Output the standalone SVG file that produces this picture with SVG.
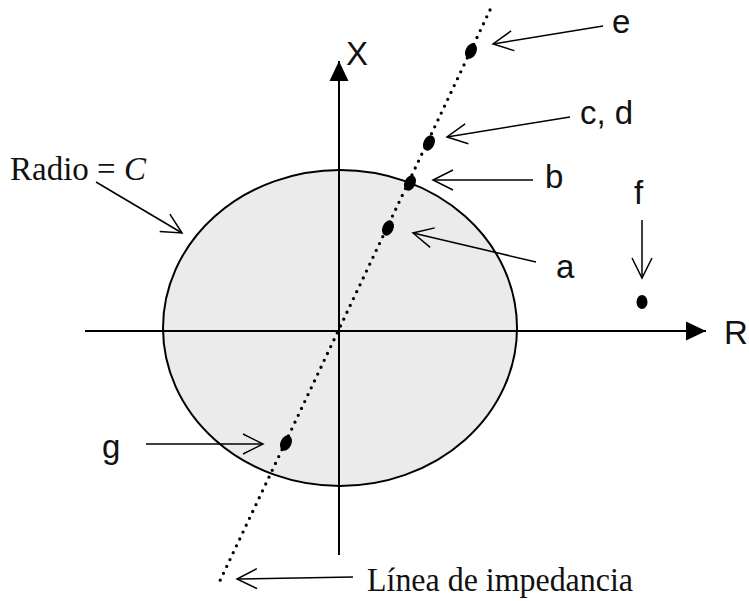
<svg xmlns="http://www.w3.org/2000/svg" width="749" height="601" viewBox="0 0 749 601">
<defs>
<marker id="open" markerUnits="userSpaceOnUse" viewBox="-22 -12 24 24" markerWidth="24" markerHeight="24" refX="0" refY="0" orient="auto" overflow="visible">
<path d="M-20,-10 L0,0 L-20,10" fill="none" stroke="#000" stroke-width="1.5"/>
</marker>
<marker id="solid" markerUnits="userSpaceOnUse" viewBox="-20 -10 22 20" markerWidth="22" markerHeight="20" refX="0" refY="0" orient="auto" overflow="visible">
<path d="M-20,-9.5 L0,0 L-20,9.5 Z" fill="#000"/>
</marker>
</defs>
<style>
.sans{font-family:"Liberation Sans",Arial,sans-serif;font-size:33px;fill:#111}
.serif{font-family:"Liberation Serif","Times New Roman",serif;font-size:33px;fill:#111}
.lbl{stroke:#000;stroke-width:1.5;fill:none;marker-end:url(#open)}
.axis{stroke:#000;stroke-width:2;fill:none}
.pt{fill:#000}
</style>
<g id="circle">
<ellipse cx="340" cy="328" rx="177" ry="158" fill="#ebebec" stroke="#000" stroke-width="2"/>
</g>
<g id="axes">
<line class="axis" x1="85" y1="331" x2="706" y2="331" marker-end="url(#solid)"/>
<line class="axis" x1="339" y1="555" x2="339" y2="61" marker-end="url(#solid)"/>
</g>
<g id="impedance-line">
<line x1="490" y1="10" x2="217" y2="587" stroke="#000" stroke-width="3.3" stroke-linecap="round" stroke-dasharray="0 7.6"/>
</g>
<g id="points">
<ellipse id="pe" class="pt" cx="471" cy="51" rx="5.5" ry="8" transform="rotate(25 471 51)"/>
<ellipse id="pcd" class="pt" cx="429" cy="143" rx="5.5" ry="8" transform="rotate(25 429 143)"/>
<ellipse id="pb" class="pt" cx="410" cy="183" rx="5.5" ry="8" transform="rotate(25 410 183)"/>
<ellipse id="pa" class="pt" cx="388" cy="228" rx="5.5" ry="8" transform="rotate(25 388 228)"/>
<ellipse id="pg" class="pt" cx="286" cy="443" rx="5.5" ry="8" transform="rotate(25 286 443)"/>
<ellipse id="pf" class="pt" cx="642" cy="302" rx="5.5" ry="7"/>
</g>
<g id="connectors">
<line class="lbl" x1="603" y1="26" x2="493" y2="44"/>
<line class="lbl" x1="570" y1="117" x2="447" y2="137"/>
<line class="lbl" x1="533" y1="180" x2="433" y2="180"/>
<line class="lbl" x1="536" y1="262" x2="413" y2="233"/>
<line class="lbl" x1="642" y1="220" x2="642" y2="278"/>
<line class="lbl" x1="146" y1="444" x2="263" y2="444"/>
<line class="lbl" x1="353" y1="577" x2="237" y2="579"/>
<line class="lbl" x1="96" y1="182" x2="182" y2="233"/>
</g>
<g id="labels">
<text class="sans" x="346" y="65">X</text>
<text class="sans" x="724" y="344">R</text>
<text class="sans" x="612" y="33">e</text>
<text class="sans" x="580" y="124">c, d</text>
<text class="sans" x="545" y="188">b</text>
<text class="sans" x="556" y="278">a</text>
<text class="sans" x="634" y="204">f</text>
<text class="sans" x="102" y="458">g</text>
<text class="serif" x="10" y="180">Radio = <tspan font-style="italic">C</tspan></text>
<text class="serif" x="367" y="591" textLength="266" lengthAdjust="spacingAndGlyphs">Línea de impedancia</text>
</g>
</svg>
